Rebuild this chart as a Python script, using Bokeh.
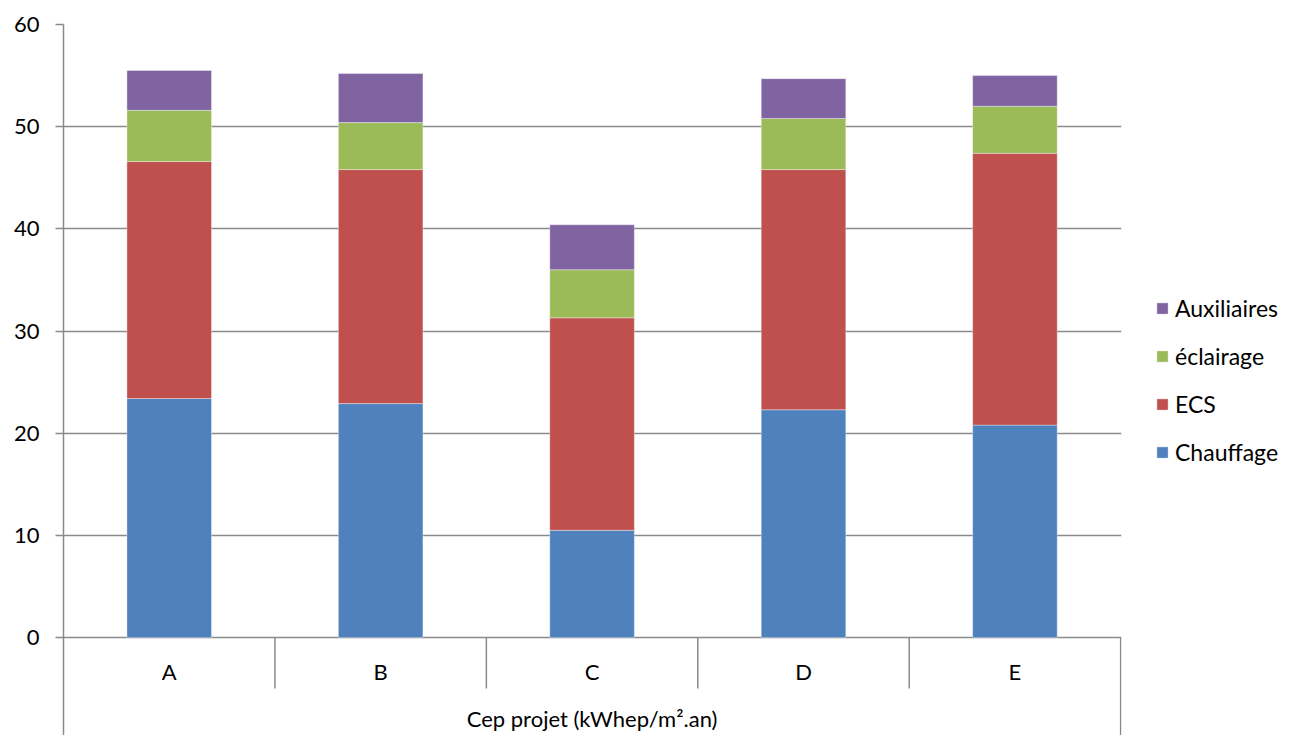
from bokeh.plotting import figure
from bokeh.models import Range1d, FixedTicker, Legend, LegendItem, ColumnDataSource
from bokeh.core.properties import value
from bokeh.embed import file_html
from bokeh.resources import INLINE

categories = ["A", "B", "C", "D", "E"]
chauffage = [23.4, 22.9, 10.5, 22.3, 20.8]
ecs = [23.2, 22.9, 20.8, 23.5, 26.6]
eclairage = [5.0, 4.6, 4.7, 5.0, 4.6]
auxiliaires = [3.9, 4.8, 4.4, 3.9, 3.0]
series_names = ["Chauffage", "ECS", "éclairage", "Auxiliaires"]
colors = ["#4F81BD", "#C0504D", "#9BBB59", "#8064A2"]
y_ticks = [0, 10, 20, 30, 40, 50, 60]
group_label = "Cep projet (kWhep/m².an)"

FONT = "Lato"
FS = "22px"
GRID = "#8a8a8a"
Y_BOTTOM = -9.58

xpos = [i + 0.5 for i in range(len(categories))]
src = ColumnDataSource(dict(x=xpos, cat=categories, Chauffage=chauffage, ECS=ecs,
                            **{"éclairage": eclairage}, Auxiliaires=auxiliaires))

p = figure(frame_width=1058, frame_height=711,
           x_range=Range1d(0, len(categories) + 0.004), y_range=Range1d(Y_BOTTOM, 60),
           output_backend="svg", toolbar_location=None,
           min_border_left=63, min_border_right=176, min_border_top=24, min_border_bottom=0)
p.outline_line_color = None
p.background_fill_color = "white"
p.border_fill_color = "white"

p.xaxis.visible = False
p.xgrid.visible = False
p.yaxis.ticker = FixedTicker(ticks=y_ticks)
p.yaxis.minor_tick_line_color = None
p.yaxis.major_tick_out = 8
p.yaxis.major_tick_in = 0
p.yaxis.major_tick_line_color = GRID
p.yaxis.major_tick_line_width = 1.5
p.yaxis.axis_line_color = GRID
p.yaxis.axis_line_width = 1.5
p.yaxis.major_label_text_font = FONT
p.yaxis.major_label_text_font_size = FS
p.yaxis.major_label_text_color = "black"
p.yaxis.major_label_standoff = 16
p.ygrid.ticker = FixedTicker(ticks=y_ticks)
p.ygrid.grid_line_color = GRID
p.ygrid.grid_line_width = 1.5

renderers = p.vbar_stack(series_names, x="x", width=0.4, source=src, color=colors,
                         line_color="white", line_width=0.6, line_alpha=0.6)

# category separators below the axis
n = len(categories)
sep_x = list(range(1, n))
p.segment(x0=sep_x, y0=[0] * len(sep_x), x1=sep_x, y1=[-4.98] * len(sep_x),
          line_color=GRID, line_width=1.5)
p.segment(x0=[n], y0=[0], x1=[n], y1=[Y_BOTTOM], line_color=GRID, line_width=1.5)

# category labels
p.text(x=xpos, y=[-3.36] * n, text=categories, text_font=value(FONT),
       text_font_size=FS, text_align="center", text_baseline="middle", text_color="black")
p.text(x=[n / 2], y=[-7.95], text=[group_label], text_font=value(FONT),
       text_font_size=FS, text_align="center", text_baseline="middle", text_color="black")

items = [LegendItem(label=name, renderers=[r]) for name, r in zip(series_names, renderers)]
legend = Legend(items=list(reversed(items)), location="center_left")
legend.margin = 34
legend.padding = 10
legend.border_line_color = None
legend.background_fill_alpha = 0
legend.label_text_font = FONT
legend.label_text_font_size = "23px"
legend.label_text_color = "black"
legend.glyph_width = 14
legend.glyph_height = 14
legend.label_height = 22
legend.spacing = 20
legend.label_standoff = 6
p.add_layout(legend, "right")

open("out.html", "w").write(file_html(p, INLINE))
